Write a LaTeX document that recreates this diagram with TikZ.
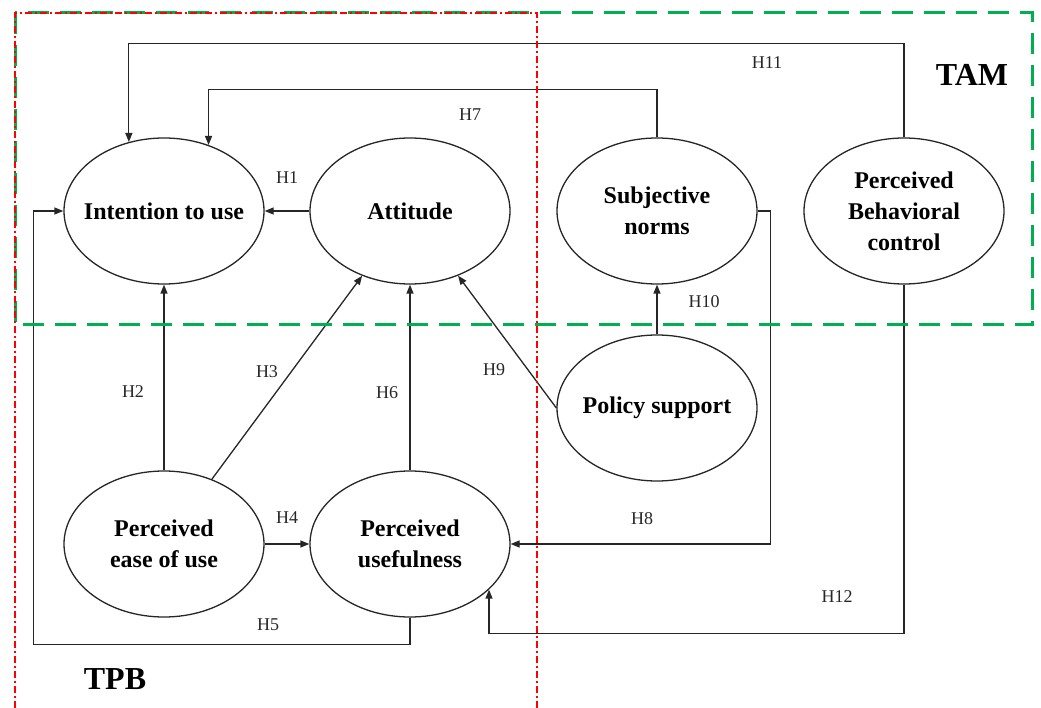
\documentclass[tikz,border=0pt]{standalone}
\usepackage{fontspec}
\setmainfont{Liberation Serif}
\usetikzlibrary{shapes.geometric,arrows.meta}
\definecolor{tamgreen}{RGB}{0,176,80}
\definecolor{tpbred}{RGB}{255,0,0}
\begin{document}
\begin{tikzpicture}[x=1pt, y=-1pt,
    construct/.style={draw=black!85, line width=1.3pt, ellipse, fill=white,
        minimum width=200pt, minimum height=146pt, inner xsep=-14pt, inner ysep=0pt,
        align=center, font=\fontsize{24}{31}\selectfont\bfseries},
    link/.style={draw=black!85, line width=1.3pt, -{Triangle[length=9pt,width=7pt]}},
    hyp/.style={font=\fontsize{18}{20}\selectfont, text=black!85},
    model/.style={font=\fontsize{32}{34}\selectfont\bfseries}]
    \useasboundingbox (0,0) rectangle (1041,708);

    % Constructs
    \node[construct] (int) at (164,211) {Intention to use};
    \node[construct] (att) at (410,211) {Attitude};
    \node[construct] (sub) at (657,211) {Subjective\\norms};
    \node[construct] (pbc) at (904,211) {Perceived\\Behavioral\\control};
    \node[construct] (pol) at (657,408) {Policy support};
    \node[construct] (peou) at (164,544) {Perceived\\ease of use};
    \node[construct] (pu) at (410,544) {Perceived\\usefulness};

    % Straight hypotheses
    \draw[link] (att) -- (int);
    \draw[link] (peou) -- (int);
    \draw[link] (peou) -- (att);
    \draw[link] (peou) -- (pu);
    \draw[link] (pu) -- (att);
    \draw[link] (pol.west) -- (att);
    \draw[link] (pol) -- (sub);

    % Elbow hypotheses
    \draw[link] (sub.north) -- ++(0,-48) -| (int.56);
    \draw[link] (pbc.north) -- ++(0,-94) -| (int.117);
    \draw[link] (pu.south) -- ++(0,27) -| ([xshift=-30pt]int.west) -- (int.west);
    \draw[link] (sub.east) -- ++(13,0) |- (pu.east);
    \draw[link] (pbc.south) -- ++(0,349) -| (pu.-30);

    % Labels
    \node[hyp] (h1) at (287,178) {H1};
    \node[hyp] (h2) at (133,392) {H2};
    \node[hyp] (h3) at (267,372) {H3};
    \node[hyp] (h4) at (287,518) {H4};
    \node[hyp] (h5) at (268,625) {H5};
    \node[hyp] (h6) at (387,393) {H6};
    \node[hyp] (h7) at (470,115) {H7};
    \node[hyp] (h8) at (642,519) {H8};
    \node[hyp] (h9) at (494,370) {H9};
    \node[hyp] (h10) at (704,302) {H10};
    \node[hyp] (h11) at (767,63) {H11};
    \node[hyp] (h12) at (837,597) {H12};
    \node[model] (tam) at (972,75) {TAM};
    \node[model] (tpb) at (115,679) {TPB};

    % Model frames
    \draw[tamgreen, line width=3pt, dash pattern=on 21pt off 11pt] (15,13) rectangle (1032,325);
    \draw[tpbred, line width=2.5pt, dash pattern=on 7pt off 3pt on 2pt off 3pt]
        (15,708) -- (15,13) -- (537,13) -- (537,708);
\end{tikzpicture}
\end{document}
